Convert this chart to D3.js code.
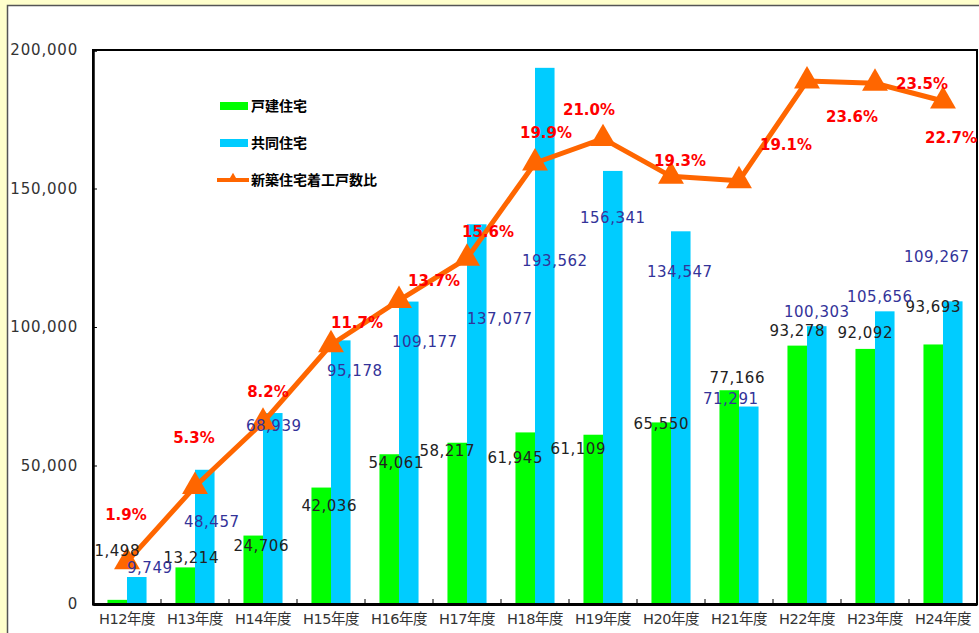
<!DOCTYPE html>
<html>
<head>
<meta charset="utf-8">
<script src="https://d3js.org/d3.v7.min.js"></script>
<style>
  body { margin: 0; background: #fff; }
  text { font-family: "DejaVu Sans", "Noto Sans CJK JP", sans-serif; }
</style>
</head>
<body>
<svg id="chart" width="979" height="633"></svg>
<script>
var categories = ["H12年度", "H13年度", "H14年度", "H15年度", "H16年度", "H17年度", "H18年度",
                  "H19年度", "H20年度", "H21年度", "H22年度", "H23年度", "H24年度"];
var detached = [1498, 13214, 24706, 42036, 54061, 58217, 61945, 61109, 65550, 77166, 93278, 92092, 93693];
var apartment = [9749, 48457, 68939, 95178, 109177, 137077, 193562, 156341, 134547, 71291, 100303, 105656, 109267];
var ratio = [1.9, 5.3, 8.2, 11.7, 13.7, 15.6, 19.9, 21.0, 19.3, 19.1, 23.6, 23.5, 22.7];
var yTicks = [0, 50000, 100000, 150000, 200000];

// hand-placed label offsets (dx, dy) from each value's point, as in the original
var detachedOff = [[0,-49],[6,-10],[8,10],[8,18],[7,8],[-10,8],[-10,25],[-15,14],[0,1],[8,-13],[0,-15],[0,-16],[0,-38]];
var apartmentOff = [[13,-9],[7,52],[1,13],[14,30],[16,40],[23,94],[10,193],[0,47],[-1,40],[-18,-8],[0,-15],[-5,-15],[-16,-45]];
var ratioOff = [[-1,-47],[-1,-49],[5,-31],[26,-22],[35,-20],[21,-27],[11,-30],[-14,-29],[9,-16],[47,-36],[45,36],[47,0],[8,37]];

var svg = d3.select("#chart"),
    margin = {top: 50, right: 2, bottom: 29, left: 93},
    width = +svg.attr("width") - margin.left - margin.right,
    height = +svg.attr("height") - margin.top - margin.bottom;

// outer frame
svg.append("rect").attr("width", 979).attr("height", 633).attr("fill", "#FFFFCC");
svg.append("rect")
    .attr("x", 7.5).attr("y", 5.5)
    .attr("width", 1000).attr("height", 700)
    .attr("fill", "#fff")
    .attr("stroke", "#555")
    .attr("stroke-width", 1.5);

var g = svg.append("g").attr("transform", "translate(" + margin.left + "," + margin.top + ")");

var x = d3.scaleBand().domain(categories).range([0, width]);
var x1 = d3.scaleBand().domain(["d", "a"]).range([0, x.bandwidth()]).paddingOuter(0.74);
var y = d3.scaleLinear().domain([0, 200000]).range([height, 0]);
var y2 = d3.scaleLinear().domain([0, 25]).range([height, 0]);

var fmt = d3.format(",");

// bars
g.selectAll(".bar-d")
  .data(detached)
  .enter().append("rect")
    .attr("x", function(d, i) { return x(categories[i]) + x1("d"); })
    .attr("y", function(d) { return y(d); })
    .attr("width", x1.bandwidth())
    .attr("height", function(d) { return height - y(d); })
    .attr("fill", "#00FF00");

g.selectAll(".bar-a")
  .data(apartment)
  .enter().append("rect")
    .attr("x", function(d, i) { return x(categories[i]) + x1("a"); })
    .attr("y", function(d) { return y(d); })
    .attr("width", x1.bandwidth())
    .attr("height", function(d) { return height - y(d); })
    .attr("fill", "#00CCFF");

// plot border
g.append("rect")
    .attr("width", width).attr("height", height)
    .attr("fill", "none")
    .attr("stroke", "#000")
    .attr("stroke-width", 2);

// y axis
var yAxis = g.append("g")
    .call(d3.axisLeft(y).tickValues(yTicks).tickFormat(fmt).tickSize(-4).tickPadding(15));
yAxis.select(".domain").attr("stroke-width", 2.5);
yAxis.selectAll("text").attr("font-size", 15).attr("fill", "#333").attr("letter-spacing", 0.8);

// x axis
var xAxis = g.append("g")
    .attr("transform", "translate(0," + height + ")")
    .call(d3.axisBottom(x).tickSize(0).tickPadding(10));
xAxis.select(".domain").attr("stroke-width", 3);
xAxis.selectAll("text").attr("font-size", 14.5).attr("fill", "#333").attr("letter-spacing", -0.5);

g.selectAll(".xtick")
  .data(categories.slice(1))
  .enter().append("line")
    .attr("x1", function(d) { return x(d); })
    .attr("x2", function(d) { return x(d); })
    .attr("y1", height)
    .attr("y2", height - 5)
    .attr("stroke", "#000");

// ratio line
var line = d3.line()
    .x(function(d, i) { return x(categories[i]) + x.bandwidth() / 2; })
    .y(function(d) { return y2(d); });

g.append("path")
    .datum(ratio)
    .attr("fill", "none")
    .attr("stroke", "#FF6600")
    .attr("stroke-width", 5)
    .attr("stroke-linejoin", "round")
    .attr("d", line);

g.selectAll(".marker")
  .data(ratio)
  .enter().append("path")
    .attr("transform", function(d, i) {
      return "translate(" + (x(categories[i]) + x.bandwidth() / 2) + "," + y2(d) + ")";
    })
    .attr("d", d3.symbol().type(d3.symbolTriangle).size(290))
    .attr("fill", "#FF6600");

// data labels
g.selectAll(".lbl-d")
  .data(detached)
  .enter().append("text")
    .attr("x", function(d, i) { return x(categories[i]) + x1("d") + x1.bandwidth() / 2 + detachedOff[i][0]; })
    .attr("y", function(d, i) { return y(d) + detachedOff[i][1]; })
    .attr("dy", "0.36em")
    .attr("text-anchor", "middle")
    .attr("font-size", 15)
    .attr("letter-spacing", 0.5)
    .attr("fill", "#222")
    .text(fmt);

g.selectAll(".lbl-a")
  .data(apartment)
  .enter().append("text")
    .attr("x", function(d, i) { return x(categories[i]) + x1("a") + x1.bandwidth() / 2 + apartmentOff[i][0]; })
    .attr("y", function(d, i) { return y(d) + apartmentOff[i][1]; })
    .attr("dy", "0.36em")
    .attr("text-anchor", "middle")
    .attr("font-size", 15)
    .attr("letter-spacing", 0.5)
    .attr("fill", "#333399")
    .text(fmt);

g.selectAll(".lbl-r")
  .data(ratio)
  .enter().append("text")
    .attr("x", function(d, i) { return x(categories[i]) + x.bandwidth() / 2 + ratioOff[i][0]; })
    .attr("y", function(d, i) { return y2(d) + ratioOff[i][1]; })
    .attr("dy", "0.36em")
    .attr("text-anchor", "middle")
    .attr("font-size", 15)
    .attr("font-weight", "bold")
    .attr("fill", "#FF0000")
    .text(function(d) { return d.toFixed(1) + "%"; });

// legend
var legend = svg.append("g").attr("transform", "translate(220,106)");

legend.append("rect").attr("x", 0).attr("y", -4).attr("width", 28).attr("height", 8).attr("fill", "#00FF00");
legend.append("rect").attr("x", 0).attr("y", 33).attr("width", 28).attr("height", 8).attr("fill", "#00CCFF");
legend.append("line")
    .attr("x1", -3).attr("x2", 29).attr("y1", 74).attr("y2", 74)
    .attr("stroke", "#FF6600").attr("stroke-width", 4);
legend.append("path")
    .attr("transform", "translate(13,73)")
    .attr("d", d3.symbol().type(d3.symbolTriangle).size(50))
    .attr("fill", "#FF6600");

legend.selectAll(".ltext")
  .data(["戸建住宅", "共同住宅", "新築住宅着工戸数比"])
  .enter().append("text")
    .attr("x", 31)
    .attr("y", function(d, i) { return i * 37; })
    .attr("dy", "0.36em")
    .attr("font-size", 14)
    .attr("font-weight", "bold")
    .attr("fill", "#000")
    .style("font-family", "'Noto Sans CJK JP', sans-serif")
    .text(function(d) { return d; });
</script>
</body>
</html>
